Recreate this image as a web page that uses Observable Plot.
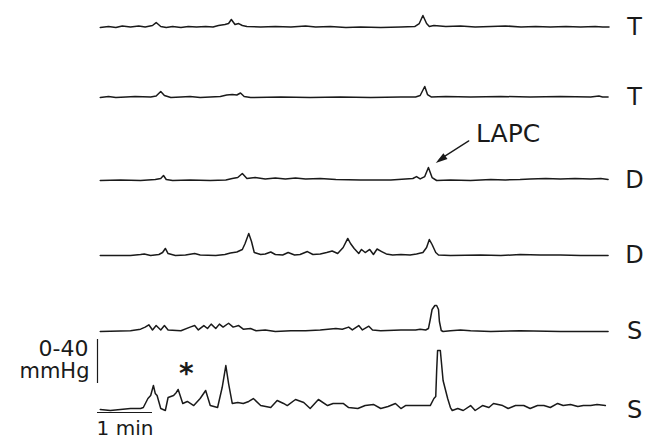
<!DOCTYPE html>
<html>
<head>
<meta charset="utf-8">
<script src="https://cdn.jsdelivr.net/npm/d3@7"></script>
<script src="https://cdn.jsdelivr.net/npm/@observablehq/plot@0.6"></script>
<style>
  body { margin: 0; background: #fff; }
  svg { display: block; }
</style>
</head>
<body>
<div id="chart"></div>
<script>
// Channel labels, top to bottom (T = transverse, D = descending, S = sigmoid)
const channels = ["T", "T", "D", "D", "S", "S"];

// Pressure traces: [time (s), pressure above resting baseline (mmHg)]
const trace1 = [[3,0],[12,0.9],[20,0],[27,1.4],[36,0.5],[45,1.4],[52,0.5],[60,1.8],[64,4.5],[69,0.9],[75,0],[82,0.9],[91,0],[99,0.9],[108,0.5],[118,0.9],[126,0.5],[132,1.8],[139,2.7],[143,3.6],[146,7.3],[150,2.7],[154,3.6],[158,1.8],[163,0.9],[178,0.5],[194,0.9],[211,0.5],[227,1.4],[238,0.5],[254,0.9],[271,0],[287,0.5],[309,0],[331,0.5],[346,0.9],[351,3.6],[355,10.9],[359,3.6],[362,0.9],[367,1.8],[380,0.9],[396,1.4],[412,0.5],[429,0.9],[445,1.4],[462,0.5],[478,0.9],[494,0.5],[511,0.9],[527,0.5],[543,0.9],[551,0.5],[558,0.5]];
const trace2 = [[3,0],[12,0.9],[20,0],[31,0.5],[41,0.9],[58,0.5],[64,1.4],[69,5.5],[73,1.8],[80,0],[91,0.5],[101,0.9],[112,0],[123,0.5],[134,0.9],[141,2.3],[147,2.7],[152,2.3],[156,4.1],[160,0.9],[167,0],[200,0.5],[232,0],[265,0.5],[298,0],[331,0.5],[347,0.5],[352,1.8],[357,10],[360,2.7],[364,0.5],[380,0.9],[407,0.5],[440,0.9],[472,0.5],[505,0.9],[538,0.5],[547,1.4],[551,0.5],[557,0.5]];
const trace3 = [[3,0],[25,0.5],[47,0],[63,0.9],[69,1.8],[72,4.5],[75,0.9],[82,0],[101,0.5],[123,0],[140,0.5],[147,1.8],[153,2.7],[158,6.4],[163,1.8],[172,2.7],[183,1.4],[194,2.3],[205,1.4],[216,2.3],[227,1.4],[243,1.8],[260,0.9],[287,0.5],[320,0.5],[336,1.4],[344,1.8],[348,3.6],[352,1.4],[357,3.6],[361,11.8],[365,2.7],[370,0],[385,0.5],[407,0],[429,0.9],[445,0.5],[461,0.9],[472,1.4],[489,1.8],[505,1.4],[521,1.8],[538,1.4],[549,1.8],[557,0.9]];
const trace4 = [[3,0],[36,0],[47,0.9],[51,1.4],[58,0],[67,0.9],[71,2.7],[74,6.4],[77,1.8],[85,0],[96,0.5],[106,1.8],[112,0.5],[129,0],[139,0.9],[145,2.3],[152,3.2],[158,5.5],[161,10.9],[165,20],[168,12.7],[171,2.7],[178,0.9],[183,1.4],[189,3.2],[194,0.9],[202,0.5],[208,2.7],[215,0.5],[221,0.9],[229,3.6],[235,0.9],[243,1.4],[250,2.7],[256,4.1],[262,1.8],[268,7.3],[273,15.5],[276,10.9],[280,6.4],[285,1.8],[288,5.5],[292,2.7],[297,5.5],[301,0.9],[305,5.9],[310,3.6],[315,1.4],[322,0.5],[331,0.9],[341,0.5],[348,1.4],[355,2.7],[359,7.3],[362,14.5],[365,10],[369,2.7],[372,0.5],[385,0],[418,0.5],[440,0],[461,0.9],[483,0.5],[505,0.5],[527,0],[557,0]];
const trace5 = [[3,0],[36,0.7],[47,2.1],[52,4],[56,6.1],[60,1.4],[64,5.4],[69,1.4],[73,5.4],[77,1.4],[91,0.7],[101,4],[106,5.4],[110,1.4],[116,5.4],[120,2.7],[124,6.7],[129,2.7],[133,6.7],[137,4],[143,7.5],[148,4],[154,5.4],[159,2.1],[167,2.7],[173,0.7],[183,1.4],[194,0],[211,0.7],[227,0.7],[243,1.4],[260,2.7],[267,2.1],[274,4],[278,1.4],[285,5.4],[289,1.4],[296,4.8],[300,1.4],[309,0.7],[331,1.4],[347,1.4],[352,2.1],[358,1.4],[361,2.7],[363,10.9],[365,20],[368,23.6],[370,23.6],[372,20],[373,9.1],[375,0.9],[377,0],[385,0.7],[396,1.4],[407,0.7],[429,0],[461,0.7],[505,0],[557,0]];
const trace6 = [[3,0.9],[14,0],[25,0.9],[36,1.8],[47,1.8],[50,2.7],[55,10.9],[58,13.6],[61,22.7],[63,15.5],[65,13.6],[69,1.8],[74,0],[77,11.8],[83,13.6],[86,16.4],[88,19.1],[93,6.4],[98,8.2],[105,4.5],[112,10.9],[118,18.2],[123,4.5],[131,2.7],[136,20.9],[140,40.9],[143,24.5],[147,6.4],[153,7.3],[159,6.4],[165,8.2],[170,10.9],[178,4.5],[189,2.7],[196,9.1],[203,6.4],[207,4.5],[216,10],[225,7.3],[232,1.8],[241,10],[251,4.5],[257,6.4],[268,6.4],[274,2.7],[284,1.8],[292,4.5],[301,5.5],[309,1.8],[317,3.6],[325,6.4],[331,1.8],[336,4.5],[352,4.5],[363,4.5],[367,10.9],[369,12.7],[370,36.4],[371,54.5],[374,54.5],[375,45.5],[377,27.3],[382,10.9],[385,2.7],[387,0],[393,1.8],[399,0],[407,4.5],[412,0],[420,4.5],[427,2.7],[432,6.4],[442,4.5],[448,1.8],[456,4.5],[465,4.5],[472,1.8],[480,4.5],[487,4.5],[494,2.7],[502,6.4],[508,4.5],[516,5.5],[524,3.6],[530,4.5],[538,4.5],[545,5.5],[554,4.5]];

// Annotated events
const lapcTime = 361;      // long-amplitude propagating contraction, descending channel
const lapcLane = 2;
const starTime = 97;       // marked event on the lowest sigmoid channel
const calibration = 40;    // mmHg, vertical calibration bar
const timeBar = 60;        // s, horizontal time bar

const traces = [trace1, trace2, trace3, trace4, trace5, trace6];
const samples = traces.flatMap((tr, lane) => tr.map(([t, p]) => ({lane, t, p})));

// Layout: stacked lanes on a shared time / pressure scale
const W = 646, H = 448;
const pxPerMin = 55, pxPerMmHg = 1.1, originPx = 97;
const laneBasePx = [27, 97, 180, 255, 331, 410];
const laneOffset = laneBasePx.map(b => (H - b) / pxPerMmHg);
const sec = px => (px - originPx) * 60 / pxPerMin;
const mm = px => (H - px) / pxPerMmHg;

const font = "DejaVu Sans, Verdana, sans-serif";
const ink = "#1a1a1a";

const calBottom = mm(383);
const labelT = sec(634);

// Slender filled arrowhead with its tip at the origin, pointing up
const dart = {
  draw(context, size) {
    const s = Math.sqrt(size);
    const len = 1.45 * s, half = 0.44 * s;
    context.moveTo(0, 0);
    context.lineTo(half, len);
    context.lineTo(-half, len);
    context.closePath();
  }
};

const chart = Plot.plot({
  width: W,
  height: H,
  margin: 0,
  x: {domain: [sec(0), sec(W)], range: [0, W], axis: null},
  y: {domain: [mm(H), mm(0)], range: [H, 0], axis: null},
  style: {fontFamily: font, background: "#fff", color: ink},
  marks: [
    // pressure traces
    Plot.line(samples, {
      x: "t",
      y: d => laneOffset[d.lane] + d.p,
      z: "lane",
      stroke: ink,
      strokeWidth: 1.5,
      strokeLinejoin: "round"
    }),
    // channel labels
    Plot.text(channels, {
      x: labelT,
      y: (d, i) => laneOffset[i],
      text: d => d,
      fontSize: 24,
      textAnchor: "middle",
      lineAnchor: "middle",
      fill: ink
    }),
    // calibration bar 0-40 mmHg
    Plot.ruleX([0], {x: 0, y1: calBottom, y2: calBottom + calibration, stroke: ink, strokeWidth: 1.2}),
    Plot.text(["0-40"], {x: sec(88), y: calBottom + calibration - 9, text: d => d, textAnchor: "end", lineAnchor: "middle", fontSize: 22, fill: ink}),
    Plot.text(["mmHg"], {x: sec(89), y: calBottom + 11, text: d => d, textAnchor: "end", lineAnchor: "middle", fontSize: 21, fill: ink}),
    // 1 min time bar
    Plot.ruleY([0], {y: mm(412), x1: 0, x2: timeBar, stroke: ink, strokeWidth: 1.2}),
    Plot.text(["1 min"], {x: timeBar / 2, y: mm(428), text: d => d, textAnchor: "middle", lineAnchor: "middle", fontSize: 20, fill: ink}),
    // asterisk over the marked event
    Plot.text(["*"], {x: starTime, y: laneOffset[5] + 38, dy: 5, text: d => d, fontSize: 28, fontWeight: "bold", textAnchor: "middle", lineAnchor: "middle", fill: ink}),
    // LAPC annotation
    Plot.arrow([0], {
      x1: lapcTime + 44, y1: laneOffset[lapcLane] + 36,
      x2: lapcTime + 12, y2: laneOffset[lapcLane] + 19,
      stroke: ink, strokeWidth: 1.3, headLength: 0
    }),
    Plot.dot([0], {
      x: lapcTime + 8, y: laneOffset[lapcLane] + 16,
      symbol: dart, r: 4.6, rotate: 235, fill: ink, stroke: "none"
    }),
    Plot.text(["LAPC"], {x: lapcTime + 52, y: laneOffset[lapcLane] + 42, text: d => d, textAnchor: "start", lineAnchor: "middle", fontSize: 25, fill: ink})
  ]
});

document.getElementById("chart").appendChild(chart);
</script>
</body>
</html>
